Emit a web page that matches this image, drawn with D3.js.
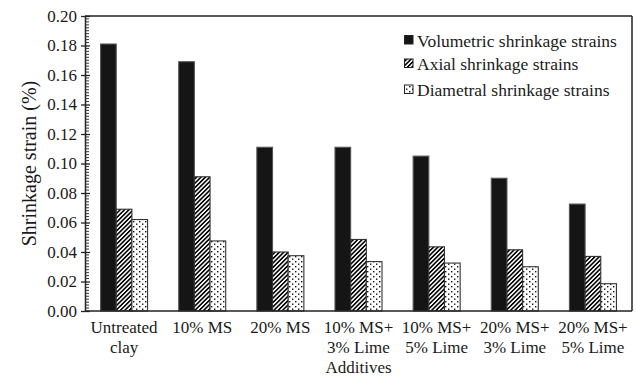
<!DOCTYPE html>
<html>
<head>
<meta charset="utf-8">
<script src="https://cdn.jsdelivr.net/npm/d3@7"></script>
<style>
  html, body { margin: 0; padding: 0; background: #fff; }
  svg { display: block; }
  text { font-family: "Liberation Serif", "Times New Roman", serif; fill: #1a1a1a; }
</style>
</head>
<body>
<svg id="chart" width="636" height="376"></svg>
<script>
// Additive mixes (two-line labels)
const categories = [
  ["Untreated", "clay"],
  ["10% MS"],
  ["20% MS"],
  ["10% MS+", "3% Lime"],
  ["10% MS+", "5% Lime"],
  ["20% MS+", "3% Lime"],
  ["20% MS+", "5% Lime"]
];
const seriesNames = ["Volumetric shrinkage strains", "Axial shrinkage strains", "Diametral shrinkage strains"];
const volumetric = [0.181, 0.169, 0.111, 0.111, 0.105, 0.090, 0.0725];
const axial      = [0.069, 0.091, 0.040, 0.0485, 0.0435, 0.0415, 0.037];
const diametral  = [0.062, 0.0475, 0.0375, 0.0335, 0.0325, 0.030, 0.0185];
const yTicks = [0, 0.02, 0.04, 0.06, 0.08, 0.10, 0.12, 0.14, 0.16, 0.18, 0.20];
const yTitle = "Shrinkage strain (%)";
const xTitle = "Additives";

const svg = d3.select("#chart");
const plotL = 85, plotR = 632, plotT = 16, plotB = 311;

// fill patterns
const defs = svg.append("defs");
const hatch = defs.append("pattern")
  .attr("id", "hatch").attr("patternUnits", "userSpaceOnUse")
  .attr("width", 3.1).attr("height", 3.1)
  .attr("patternTransform", "rotate(45)");
hatch.append("rect").attr("width", 3.1).attr("height", 3.1).attr("fill", "#fff");
hatch.append("rect").attr("width", 1.6).attr("height", 3.1).attr("fill", "#000");

const dots = defs.append("pattern")
  .attr("id", "dots").attr("patternUnits", "userSpaceOnUse")
  .attr("width", 6).attr("height", 5);
dots.append("rect").attr("width", 6).attr("height", 5).attr("fill", "#fff");
dots.append("rect").attr("x", 1).attr("y", 1).attr("width", 1.4).attr("height", 1.4).attr("fill", "#111");
dots.append("rect").attr("x", 4).attr("y", 3.5).attr("width", 1.4).attr("height", 1.4).attr("fill", "#111");

const fills = ["#151515", "url(#hatch)", "url(#dots)"];
const strokes = ["#555", "#333", "#333"];

const y = d3.scaleLinear().domain([0, 0.2]).range([plotB, plotT]);
const x = d3.scaleBand().domain(d3.range(categories.length)).range([plotL, plotR]).padding(0);
const groupW = 47;
const xs = d3.scaleBand().domain(d3.range(3)).range([0, groupW]).padding(0);

const series = [volumetric, axial, diametral];

// bars
series.forEach((vals, si) => {
  svg.append("g").selectAll("rect").data(vals).join("rect")
    .attr("x", (d, i) => x(i) + (x.bandwidth() - groupW) / 2 + xs(si))
    .attr("y", d => y(d))
    .attr("width", xs.bandwidth())
    .attr("height", d => y(0) - y(d))
    .attr("fill", fills[si])
    .attr("stroke", strokes[si])
    .attr("stroke-width", 1.1);
});

// frame top and right
svg.append("line").attr("x1", plotL).attr("x2", plotR).attr("y1", plotT).attr("y2", plotT)
  .attr("stroke", "#222").attr("stroke-width", 1.5);
svg.append("line").attr("x1", plotR).attr("x2", plotR).attr("y1", plotT).attr("y2", plotB)
  .attr("stroke", "#222").attr("stroke-width", 1.5);

// y axis: major ticks crossing the axis, minor ticks inside
const yAxis = d3.axisLeft(y).tickValues(yTicks).tickFormat(d3.format(".2f"))
  .tickSizeInner(4).tickSizeOuter(0).tickPadding(4);
const yg = svg.append("g").attr("transform", `translate(${plotL},0)`).call(yAxis);
yg.attr("font-family", null);
yg.select(".domain").attr("stroke", "#222").attr("stroke-width", 1.5);
yg.selectAll(".tick line").attr("x1", -4).attr("x2", 5).attr("stroke", "#222").attr("stroke-width", 1.3);
yg.selectAll(".tick text").attr("font-size", 17).attr("fill", "#1a1a1a");

const minor = d3.range(0, 0.2001, 0.002).filter(v => Math.abs(v * 50 - Math.round(v * 50)) > 1e-6);
svg.append("g").selectAll("line").data(minor).join("line")
  .attr("x1", plotL).attr("x2", plotL + 4)
  .attr("y1", d => y(d)).attr("y2", d => y(d))
  .attr("stroke", "#333").attr("stroke-width", 1);

// x axis baseline
svg.append("line").attr("x1", plotL).attr("x2", plotR).attr("y1", plotB).attr("y2", plotB)
  .attr("stroke", "#222").attr("stroke-width", 1.5);

// category labels
const catG = svg.append("g");
categories.forEach((lines, i) => {
  const cx = x(i) + x.bandwidth() / 2;
  const t = catG.append("text")
    .attr("x", cx)
    .attr("y", 333)
    .attr("text-anchor", "middle")
    .attr("font-size", 17);
  lines.forEach((ln, k) => {
    t.append("tspan").attr("x", cx).attr("dy", k === 0 ? 0 : 20).text(ln);
  });
});

// axis titles
svg.append("text").attr("x", (plotL + plotR) / 2).attr("y", 373)
  .attr("text-anchor", "middle").attr("font-size", 17).text(xTitle);
svg.append("text")
  .attr("transform", `translate(36,${(plotT + plotB) / 2}) rotate(-90)`)
  .attr("text-anchor", "middle").attr("font-size", 20).text(yTitle);

// legend
const legY = [46.5, 70, 96];
const leg = svg.append("g");
seriesNames.forEach((name, i) => {
  leg.append("rect").attr("x", 404.5).attr("y", legY[i] - 11).attr("width", 8.5).attr("height", 8.5)
    .attr("fill", fills[i]).attr("stroke", "#222").attr("stroke-width", 1);
  leg.append("text").attr("x", 417).attr("y", legY[i]).attr("font-size", 17.5).text(name);
});
</script>
</body>
</html>
